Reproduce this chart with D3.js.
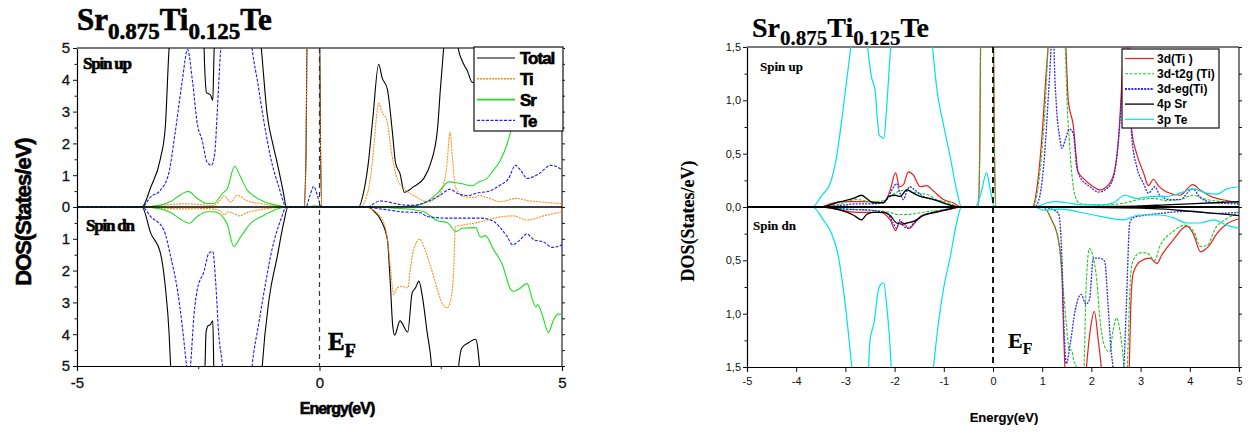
<!DOCTYPE html>
<html>
<head>
<meta charset="utf-8">
<script src="https://cdn.jsdelivr.net/npm/d3@7"></script>
<style>
  body { margin: 0; background: #fff; }
  svg { display: block; }
</style>
</head>
<body>
<svg id="chart" width="1250" height="433"></svg>
<script>
// ---- data, left panel: [energy eV, DOS]; spin dn stored as magnitude ----
const totalUp = [[-5,0],[-3.66,0],[-3.48,0.62],[-3.28,1.52],[-3.18,2.5],[-3.1,5],[-3.0,6],
  [-2.4,6],[-2.37,4.5],[-2.33,3.6],[-2.27,3.55],[-2.24,3.5],[-2.2,3.35],[-2.18,4.5],[-2.15,6],
  [-1.26,6],[-1.2,5],[-1.08,2.93],[-0.95,1.9],[-0.87,1.37],[-0.75,0.5],[-0.68,0],
  [-0.32,0],[-0.28,1.5],[-0.25,6],[0.0,6],[0.02,2],[0.05,0],
  [0.81,0],[0.9,0.4],[1.0,1.3],[1.1,2.8],[1.22,4.49],[1.29,4.07],[1.4,3.7],[1.5,2.4],[1.57,1.37],
  [1.66,1.05],[1.75,0.46],[1.94,0.64],[2.15,0.9],[2.29,1.37],[2.43,2.4],[2.49,3.66],[2.56,5],[2.62,6],
  [2.8,6],[2.86,5],[2.94,4.6],[3.05,4.28],[3.15,3.92],[3.22,3.95],[3.35,6],[5,6]];
const totalDn = [[-5,0],[-3.66,0],[-3.48,0.82],[-3.28,1.45],[-3.18,2.49],[-3.1,4],[-3.07,5],[-3.0,6],
  [-2.4,6],[-2.36,5],[-2.34,3.95],[-2.3,3.74],[-2.25,3.7],[-2.2,3.58],[-2.18,5],[-2.15,6],
  [-1.22,6],[-1.18,5],[-1.04,2.9],[-0.87,1.55],[-0.74,0.51],[-0.65,0],
  [1.0,0],[1.1,0.1],[1.26,0.4],[1.4,1.03],[1.46,2.4],[1.51,3.74],[1.55,4.03],[1.66,3.58],[1.82,3.93],
  [1.91,2.7],[1.98,2.54],[2.05,2.33],[2.12,2.8],[2.22,3.95],[2.31,5],[2.35,6],
  [2.83,6],[2.87,5],[2.94,4.42],[3.08,4.26],[3.22,4.16],[3.26,4.4],[3.3,5],[3.35,6],[5,6]];
const tiUp = [[-5,0],[-3.66,0],[-3.3,0.05],[-2.8,0.1],[-2.5,0.08],[-2.2,0.05],[-2.05,0.2],[-1.97,0.35],
  [-1.83,0.16],[-1.7,0.37],[-1.5,0.2],[-1.17,0.1],[-0.9,0.03],[-0.7,0],
  [-0.31,0],[-0.28,1.5],[-0.25,6],[-0.01,6],[0.02,2],[0.05,0],
  [0.84,0],[0.95,0.25],[1.05,0.9],[1.12,1.9],[1.18,2.9],[1.22,3.26],[1.29,2.98],[1.38,2.77],[1.5,1.57],
  [1.6,0.9],[1.74,0.58],[1.94,0.37],[2.24,0.16],[2.4,0.3],[2.49,0.43],[2.63,1.37],[2.69,2.35],[2.74,1.57],
  [2.8,0.64],[2.98,0.32],[3.2,0.3],[3.28,0.37],[3.45,0.3],[3.73,0.17],[4.07,0.27],[4.3,0.2],[4.71,0.14],[5,0.1]];
const tiDn = [[-5,0],[-3.66,0],[-3.3,0.03],[-2.8,0.06],[-2.3,0.05],[-2.05,0.12],[-1.97,0.25],[-1.88,0.15],
  [-1.75,0.22],[-1.65,0.28],[-1.5,0.18],[-1.2,0.08],[-0.9,0.02],[-0.7,0],
  [0.95,0],[1.05,0.05],[1.19,0.2],[1.33,0.51],[1.41,1.13],[1.46,1.87],[1.53,2.75],[1.6,2.54],[1.7,2.5],
  [1.82,2.54],[1.88,1.87],[1.94,1.34],[2.07,1.01],[2.15,1.24],[2.29,1.87],[2.43,2.59],[2.54,3.06],[2.63,3.17],
  [2.72,2.8],[2.77,1.87],[2.8,0.62],[2.9,0.58],[3.19,0.51],[3.46,0.41],[3.73,0.31],[4.0,0.28],[4.28,0.41],
  [4.62,0.28],[5,0.15]];
const srUp = [[-5,0],[-3.66,0],[-3.3,0.05],[-3.07,0.17],[-2.87,0.38],[-2.71,0.49],[-2.52,0.27],[-2.32,0.11],
  [-2.18,0.11],[-2.0,0.43],[-1.9,0.58],[-1.75,1.28],[-1.63,0.95],[-1.49,0.53],[-1.35,0.34],[-1.15,0.17],
  [-0.87,0.05],[-0.68,0],[-0.25,0],[-0.1,0.04],[0.03,0],
  [1.0,0],[1.5,0.01],[1.94,0.03],[2.22,0.17],[2.43,0.43],[2.67,0.79],[2.91,0.74],[3.15,0.67],[3.28,0.79],
  [3.42,0.86],[3.59,1.16],[3.73,1.47],[3.87,1.99],[3.94,2.35],[4.1,3.0],[4.4,3.8],[4.7,4.3],[5,4.6]];
const srDn = [[-5,0],[-3.66,0],[-3.3,0.05],[-3.07,0.17],[-2.87,0.38],[-2.69,0.51],[-2.52,0.3],[-2.32,0.15],
  [-2.18,0.15],[-2.0,0.3],[-1.9,0.55],[-1.77,1.24],[-1.63,0.95],[-1.43,0.53],[-1.17,0.28],[-0.84,0.05],[-0.68,0],
  [1.0,0],[1.5,0.03],[2.0,0.1],[2.15,0.15],[2.43,0.43],[2.63,0.49],[2.82,0.77],[2.94,0.67],[3.22,0.65],
  [3.32,0.95],[3.42,0.9],[3.59,1.34],[3.77,1.81],[3.94,2.59],[4.0,2.65],[4.1,2.59],[4.28,2.41],[4.39,2.91],
  [4.46,3.14],[4.5,3.07],[4.59,3.38],[4.72,3.95],[4.83,3.53],[4.93,3.37],[5,3.37]];
const teUp = [[-5,0],[-3.66,0],[-3.48,0.32],[-3.28,0.53],[-3.11,1.05],[-2.97,2.4],[-2.83,3.97],[-2.72,4.95],
  [-2.62,3.97],[-2.52,2.62],[-2.42,2.1],[-2.32,1.42],[-2.23,1.31],[-2.16,1.68],[-2.11,2.93],[-2.04,4.9],[-1.98,6],
  [-1.45,6],[-1.39,5],[-1.28,3.97],[-1.15,2.72],[-1.01,1.57],[-0.84,0.64],[-0.68,0],
  [-0.28,0],[-0.2,0.35],[-0.12,0.65],[-0.04,0.35],[0.04,0],
  [1.0,0],[1.16,0.15],[1.26,0.19],[1.66,0.08],[1.93,0.05],[2.22,0.17],[2.49,0.37],[2.69,0.56],[2.84,0.43],
  [3.05,0.36],[3.28,0.45],[3.45,0.48],[3.73,0.69],[3.9,0.9],[4.04,1.31],[4.15,1.15],[4.28,0.9],[4.53,1.05],
  [4.76,1.31],[4.9,1.26],[5,1.17]];
const teDn = [[-5,0],[-3.66,0],[-3.48,0.3],[-3.21,0.72],[-3.07,1.55],[-2.93,2.6],[-2.83,3.74],[-2.74,5],[-2.7,5.5],
  [-2.66,5],[-2.59,3.43],[-2.52,2.6],[-2.38,2.02],[-2.28,1.45],[-2.2,1.4],[-2.14,2.38],[-2.08,3.95],[-2.0,5],[-1.95,6],
  [-1.45,6],[-1.39,5],[-1.25,3.64],[-1.11,2.38],[-0.98,1.34],[-0.8,0.41],[-0.68,0],
  [1.0,0],[1.2,0.05],[1.46,0.1],[1.66,0.15],[2.08,0.18],[2.22,0.3],[2.63,0.35],[2.9,0.35],[3.32,0.35],
  [3.59,0.45],[3.73,0.66],[3.87,0.93],[3.98,1.19],[4.1,1.08],[4.28,0.85],[4.42,1.03],[4.62,1.1],[4.8,1.27],[5,1.19]];

// ---- data, right panel ----
const d3Up = [[-5,0],[-3.5,0],[-3.31,0.03],[-3.04,0.05],[-2.77,0.05],[-2.5,0.05],[-2.22,0.04],[-2.09,0.16],
  [-1.98,0.32],[-1.9,0.19],[-1.82,0.21],[-1.72,0.33],[-1.62,0.3],[-1.48,0.19],[-1.35,0.2],[-1.21,0.15],
  [-1.01,0.07],[-0.81,0.04],[-0.64,0],[-0.3,0],[-0.27,0.5],[-0.24,2],[0.0,2],[0.03,0.5],[0.06,0],
  [0.8,0],[0.9,0.2],[0.99,0.63],[1.08,1.25],[1.12,1.5],[1.2,2],[1.42,2],[1.48,1.5],[1.53,1.0],[1.63,0.77],
  [1.73,0.33],[1.83,0.27],[2.04,0.19],[2.17,0.16],[2.31,0.19],[2.45,0.3],[2.55,0.63],[2.61,1.1],[2.65,1.5],
  [2.7,2],[2.76,2],[2.8,1.0],[2.82,0.72],[2.92,0.5],[3.06,0.32],[3.16,0.2],[3.26,0.26],[3.36,0.2],[3.53,0.14],
  [3.8,0.11],[4.06,0.21],[4.21,0.16],[4.48,0.09],[4.75,0.06],[5,0.04]];
const d3Dn = [[-5,0],[-3.5,0],[-3.2,0.02],[-2.77,0.05],[-2.3,0.05],[-2.09,0.12],[-1.98,0.22],[-1.9,0.14],
  [-1.82,0.15],[-1.71,0.2],[-1.59,0.15],[-1.45,0.08],[-1.15,0.05],[-0.85,0.02],[-0.64,0],
  [1.02,0],[1.19,0.12],[1.33,0.31],[1.4,0.62],[1.43,1.09],[1.46,1.5],[1.5,1.8],
  [1.85,1.8],[1.9,1.5],[1.97,1.18],[2.06,0.98],[2.14,1.25],[2.2,1.5],[2.25,1.8],
  [2.72,1.8],[2.77,1.5],[2.8,0.93],[2.85,0.62],[2.99,0.51],[3.19,0.48],[3.33,0.53],[3.43,0.45],[3.66,0.31],
  [3.94,0.18],[4.07,0.25],[4.22,0.42],[4.38,0.37],[4.55,0.25],[4.75,0.16],[5,0.11]];
const t2gUp = [[-5,0],[-3.5,0],[-3.1,0.03],[-2.77,0.07],[-2.5,0.05],[-2.2,0.06],[-2.09,0.1],[-1.95,0.14],
  [-1.75,0.16],[-1.55,0.13],[-1.35,0.12],[-1.15,0.07],[-0.9,0.04],[-0.68,0],
  [-0.3,0],[-0.27,0.5],[-0.24,2],[0.0,2],[0.03,0.5],[0.06,0],
  [0.82,0],[0.92,0.2],[1.0,0.55],[1.06,0.94],[1.12,1.5],[1.2,2],[1.42,2],[1.47,1.5],[1.51,0.94],[1.55,0.63],
  [1.6,0.32],[1.67,0.1],[1.77,0.03],[2.17,0.02],[2.58,0.03],[2.99,0.07],[3.26,0.08],[3.53,0.06],[3.8,0.07],
  [4.07,0.11],[4.34,0.07],[4.68,0.05],[5,0.04]];
const t2gDn = [[-5,0],[-3.5,0],[-3.0,0.02],[-2.5,0.03],[-2.1,0.05],[-1.95,0.07],[-1.75,0.07],[-1.55,0.06],
  [-1.3,0.04],[-0.9,0.02],[-0.68,0],
  [1.02,0],[1.19,0.12],[1.33,0.31],[1.43,0.78],[1.49,1.09],[1.55,1.34],[1.6,1.34],[1.64,1.44],[1.69,1.5],
  [1.75,1.8],[1.8,1.7],[1.85,1.5],[1.89,0.78],[1.96,0.39],[2.02,0.44],[2.11,0.69],[2.17,1.03],[2.27,1.31],
  [2.37,1.36],[2.44,1.16],[2.51,1.04],[2.58,1.16],[2.66,1.5],[2.7,1.8],[2.73,1.5],[2.8,0.62],[2.85,0.5],
  [2.99,0.43],[3.12,0.43],[3.29,0.5],[3.39,0.37],[3.66,0.23],[3.9,0.17],[4.07,0.22],[4.22,0.37],[4.35,0.36],
  [4.52,0.2],[4.75,0.11],[5,0.06]];
const egUp = [[-5,0],[-3.5,0],[-3.0,0.02],[-2.77,0.03],[-2.4,0.03],[-2.16,0.07],[-2.03,0.18],[-1.96,0.22],
  [-1.89,0.13],[-1.82,0.07],[-1.75,0.15],[-1.69,0.19],[-1.59,0.16],[-1.42,0.1],[-1.15,0.06],[-0.9,0.02],[-0.68,0],
  [0.85,0],[0.95,0.1],[1.05,0.5],[1.12,1.0],[1.18,1.5],[1.22,2],[1.24,1.5],[1.29,0.94],[1.36,0.64],[1.4,0.55],
  [1.47,0.63],[1.55,0.73],[1.63,0.69],[1.7,0.38],[1.77,0.28],[1.97,0.19],[2.14,0.14],[2.31,0.17],[2.45,0.28],
  [2.55,0.63],[2.65,1.25],[2.72,1.6],[2.78,1.0],[2.82,0.66],[2.92,0.38],[3.06,0.22],[3.16,0.13],[3.29,0.19],
  [3.39,0.11],[3.6,0.07],[3.8,0.07],[4.06,0.17],[4.21,0.09],[4.48,0.04],[5,0.03]];
const egDn = [[-5,0],[-3.5,0],[-3.0,0.02],[-2.5,0.03],[-2.15,0.06],[-2.03,0.15],[-1.96,0.2],[-1.89,0.12],
  [-1.82,0.18],[-1.72,0.2],[-1.59,0.14],[-1.42,0.08],[-1.1,0.04],[-0.68,0],
  [1.0,0],[1.2,0.02],[1.33,0.06],[1.4,0.47],[1.44,1.09],[1.49,1.47],[1.57,1.28],[1.67,0.97],[1.79,0.82],
  [1.89,0.91],[1.96,0.87],[2.04,0.48],[2.17,0.48],[2.27,0.51],[2.34,0.93],[2.4,1.34],[2.44,1.5],[2.5,1.8],
  [2.6,1.8],[2.66,1.5],[2.71,0.93],[2.78,0.15],[2.85,0.1],[3.4,0.06],[4.07,0.04],[4.5,0.06],[5,0.05]];
const sr4pUp = [[-5,0],[-3.5,0],[-3.1,0.05],[-2.84,0.08],[-2.67,0.11],[-2.57,0.08],[-2.43,0.04],[-2.22,0.04],
  [-2.12,0.1],[-1.99,0.11],[-1.89,0.1],[-1.75,0.16],[-1.66,0.14],[-1.48,0.1],[-1.28,0.08],[-1.08,0.05],
  [-0.8,0.01],[-0.68,0],[1.0,0],[2.5,0.005],[3.0,0.01],[3.5,0.02],[4.0,0.03],[4.5,0.04],[5,0.05]];
const sr4pDn = [[-5,0],[-3.5,0],[-3.1,0.03],[-2.84,0.075],[-2.67,0.12],[-2.57,0.07],[-2.43,0.05],[-2.22,0.05],
  [-2.09,0.08],[-1.96,0.15],[-1.85,0.16],[-1.75,0.15],[-1.59,0.13],[-1.42,0.08],[-1.2,0.05],[-0.9,0.02],
  [-0.68,0],[1.0,0],[3.0,0.01],[3.5,0.02],[4.0,0.04],[4.5,0.06],[5,0.08]];
const te3pUp = [[-5,0],[-3.67,0],[-3.48,0.11],[-3.31,0.22],[-3.18,0.47],[-3.04,0.94],[-2.94,1.31],[-2.89,1.5],[-2.8,1.8],
  [-2.62,1.8],[-2.55,1.5],[-2.47,1.22],[-2.4,1.1],[-2.31,0.67],[-2.27,0.66],[-2.22,0.64],[-2.16,0.94],[-2.11,1.3],
  [-2.08,1.5],[-2.0,1.8],[-1.3,1.8],[-1.23,1.5],[-1.14,1.1],[-1.01,0.78],[-0.87,0.47],[-0.74,0.16],[-0.64,0],
  [-0.36,0],[-0.25,0.12],[-0.13,0.32],[-0.05,0.15],[0.03,0],
  [0.85,0],[1.1,0.04],[1.3,0.05],[1.5,0.04],[1.8,0.02],[2.2,0.02],[2.45,0.04],[2.68,0.11],[2.92,0.08],
  [3.26,0.1],[3.53,0.1],[3.8,0.13],[4.07,0.17],[4.34,0.13],[4.55,0.12],[4.75,0.17],[5,0.19]];
const te3pDn = [[-5,0],[-3.67,0],[-3.45,0.12],[-3.28,0.25],[-3.14,0.47],[-3.04,0.78],[-2.96,1.09],[-2.87,1.5],[-2.8,1.8],
  [-2.6,1.8],[-2.53,1.5],[-2.5,1.25],[-2.42,1.09],[-2.33,0.78],[-2.29,0.73],[-2.22,0.71],[-2.16,0.93],[-2.1,1.25],
  [-2.07,1.5],[-2.0,1.8],[-1.28,1.8],[-1.21,1.5],[-1.11,1.09],[-1.01,0.78],[-0.87,0.47],[-0.74,0.15],[-0.64,0],
  [0.85,0],[1.02,0.03],[1.36,0.02],[2.04,0.075],[2.65,0.12],[2.98,0.075],[3.39,0.075],[3.66,0.1],[3.94,0.15],
  [4.21,0.15],[4.48,0.12],[4.75,0.17],[5,0.2]];

const leftNames = ["Total", "Ti", "Sr", "Te"];
const rightNames = ["3d(Ti )", "3d-t2g (Ti)", "3d-eg(Ti)", "4p Sr", "3p Te"];
const leftYTicks = [-5,-4,-3,-2,-1,0,1,2,3,4,5];
const rightYTicks = [-1.5,-1,-0.5,0,0.5,1,1.5];

const svg = d3.select('#chart');
const SANS = "'Liberation Sans', Arial, sans-serif";
const SERIF = "'Liberation Serif', 'Times New Roman', serif";

function title(x, y, size, sub, heavy) {
  const t = svg.append('text').attr('x', x).attr('y', y)
    .attr('font-family', SERIF).attr('font-weight', 'bold').attr('font-size', size)
    .attr('stroke', '#000').attr('stroke-width', heavy);
  const parts = [['Sr',0],['0.875',1],['Ti',0],['0.125',1],['Te',0]];
  let prev = 0;
  parts.forEach(([s, lo]) => {
    t.append('tspan').text(s)
      .attr('font-size', lo ? sub : size)
      .attr('dy', (lo - prev) * size * 0.28);
    prev = lo;
  });
}

function panel(o) {
  const x = d3.scaleLinear().domain([-5, 5]).range([o.x0, o.x1]);
  const y = d3.scaleLinear().domain([-o.ymax, o.ymax]).range([o.y1, o.y0]);
  const g = svg.append('g');
  const clipId = 'clip' + o.id;
  svg.append('clipPath').attr('id', clipId).append('rect')
    .attr('x', o.x0).attr('y', o.y0).attr('width', o.x1 - o.x0).attr('height', o.y1 - o.y0);

  // axes
  const ax = g.append('g').attr('transform', `translate(0,${o.y1})`)
    .call(d3.axisBottom(x).tickValues(o.xTicks).tickSize(5).tickFormat(d => String(d)));
  g.append('g').attr('transform', `translate(0,${o.y1})`)
    .call(d3.axisBottom(x).tickValues(o.xMinor).tickSize(3).tickFormat(''))
    .select('.domain').remove();
  const ay = g.append('g').attr('transform', `translate(${o.x0},0)`)
    .call(d3.axisLeft(y).tickValues(o.yTicks).tickSize(4).tickFormat(o.yFmt));
  g.append('g').attr('transform', `translate(${o.x0},0)`)
    .call(d3.axisLeft(y).tickValues(o.yMinor).tickSize(2.5).tickFormat(''))
    .select('.domain').remove();
  g.append('g').attr('transform', `translate(${o.x1},0)`)
    .call(d3.axisLeft(y).tickValues(o.yMinor.concat(o.yTicks)).tickSize(-3).tickFormat(''))
    .select('.domain').remove();
  [ax, ay].forEach(a => {
    a.selectAll('text').attr('font-family', SANS).attr('font-size', o.tickFont).attr('fill', '#111')
      .attr('stroke', '#111').attr('stroke-width', o.tickHeavy);
    a.select('.domain').attr('stroke-width', 1.2);
  });
  ax.selectAll('text').attr('dy', o.xLabDy);
  ay.selectAll('.tick text').attr('x', -o.yLabGap);
  g.selectAll('.tick line').attr('stroke', '#111');

  // frame: top border grey, right border black
  g.append('line').attr('x1', o.x0).attr('x2', o.x1).attr('y1', o.y0).attr('y2', o.y0)
    .attr('stroke', '#7a7a7a').attr('stroke-width', 2.2);
  g.append('line').attr('x1', o.x1).attr('x2', o.x1).attr('y1', o.y0).attr('y2', o.y1)
    .attr('stroke', '#111').attr('stroke-width', 1.1);

  // curves
  const cg = g.append('g').attr('clip-path', `url(#${clipId})`);
  const line = d3.line().x(d => x(d[0])).y(d => y(d[1])).curve(d3.curveMonotoneX);
  o.series.forEach(s => {
    [[s.up, 1], [s.dn, -1]].forEach(([arr, sign]) => {
      cg.append('path').datum(arr.map(d => [d[0], sign * d[1]]))
        .attr('d', line).attr('fill', 'none')
        .attr('stroke', s.color).attr('stroke-width', s.width)
        .attr('stroke-dasharray', s.dash || null);
    });
  });
  // zero line
  g.append('line').attr('x1', o.x0).attr('x2', o.x1).attr('y1', y(0)).attr('y2', y(0))
    .attr('stroke', '#000').attr('stroke-width', o.zeroW);
  // Fermi level
  g.append('line').attr('x1', x(0)).attr('x2', x(0)).attr('y1', o.y0).attr('y2', o.y1)
    .attr('stroke', o.efColor).attr('stroke-width', o.efW).attr('stroke-dasharray', o.efDash);

  // legend
  const L = o.legend;
  g.append('rect').attr('x', L.x).attr('y', L.y).attr('width', L.w).attr('height', L.h)
    .attr('fill', '#fff').attr('stroke', '#111').attr('stroke-width', 1.2);
  o.series.forEach((s, i) => {
    const cy = L.y + L.first + i * L.step;
    g.append('line').attr('x1', L.x + 3).attr('x2', L.x + 3 + L.lineLen).attr('y1', cy).attr('y2', cy)
      .attr('stroke', s.color).attr('stroke-width', s.legW || s.width)
      .attr('stroke-dasharray', s.dash || null);
    g.append('text').attr('x', L.x + L.textX).attr('y', cy + L.font * 0.36)
      .attr('font-family', SANS).attr('font-weight', 'bold').attr('font-size', L.font)
      .attr('stroke', '#000').attr('stroke-width', L.heavy)
      .attr('letter-spacing', L.ls).text(o.names[i]);
  });

  // annotations
  const lab = (tx, ty, txt, size, fam, ls, heavy, anchor, rot) => {
    const t = g.append('text').attr('x', tx).attr('y', ty).text(txt)
      .attr('font-family', fam).attr('font-weight', 'bold').attr('font-size', size)
      .attr('stroke', '#000').attr('stroke-width', heavy)
      .attr('letter-spacing', ls).attr('text-anchor', anchor || 'start');
    if (rot) t.attr('transform', `rotate(-90,${tx},${ty})`);
    return t;
  };
  lab(o.spinUp[0], o.spinUp[1], 'Spin up', o.spinFont, SERIF, o.spinLs, o.heavy);
  lab(o.spinDn[0], o.spinDn[1], 'Spin dn', o.spinFont, SERIF, o.spinLs, o.heavy);
  const ef = lab(o.ef[0], o.ef[1], 'E', o.efFont, SERIF, 0, o.heavy);
  ef.append('tspan').text('F').attr('font-size', o.efFont * 0.72).attr('dy', o.efFont * 0.28);
  lab(o.xTitle[0], o.xTitle[1], 'Energy(eV)', o.xTitleFont, SANS, o.xTitleLs, o.heavy, 'middle');
  lab(o.yTitle[0], o.yTitle[1], 'DOS(States/eV)', o.yTitleFont, o.yTitleFam, o.yTitleLs, o.heavy, 'middle', true);
}

title(77, 30, 31, 23, 0.6);
title(752, 37, 28, 21, 0.2);

panel({
  id: 'L', x0: 77, x1: 562, y0: 48, y1: 366, ymax: 5,
  xTicks: [-5, 0, 5], xMinor: [-2.5, 2.5],
  yTicks: leftYTicks, yMinor: d3.range(-4.5, 5, 1), yFmt: d => Math.abs(d),
  tickFont: 15, tickHeavy: 0.3, xLabDy: '0.95em', yLabGap: 7, zeroW: 1.3,
  efColor: '#333', efW: 1.2, efDash: '5,4',
  names: leftNames, heavy: 0.6,
  series: [
    { up: totalUp, dn: totalDn, color: '#000', width: 1.1 },
    { up: tiUp, dn: tiDn, color: '#ff8c1a', width: 1.1, dash: '2,1', legW: 1.6 },
    { up: srUp, dn: srDn, color: '#22dd22', width: 1.1, legW: 1.8 },
    { up: teUp, dn: teDn, color: '#1a1aff', width: 1.1, dash: '3,1.5' }
  ],
  legend: { x: 474, y: 47, w: 89, h: 84, first: 11, step: 20.8, lineLen: 38, textX: 46, font: 17, ls: -1, heavy: 0.6 },
  spinUp: [83, 69], spinDn: [86, 231], spinFont: 17, spinLs: -1.2,
  ef: [328, 350], efFont: 25,
  xTitle: [337, 414], xTitleFont: 16, xTitleLs: -1,
  yTitle: [31, 212], yTitleFont: 22, yTitleFam: SANS, yTitleLs: -1
});

panel({
  id: 'R', x0: 747, x1: 1239, y0: 47, y1: 367, ymax: 1.5,
  xTicks: d3.range(-5, 6, 1), xMinor: [],
  yTicks: rightYTicks, yMinor: [-1.25, -0.75, -0.25, 0.25, 0.75, 1.25],
  yFmt: d => d3.format('.1f')(Math.abs(d)).replace('.', ','),
  tickFont: 11, tickHeavy: 0, xLabDy: '0.9em', yLabGap: 6, zeroW: 1.8,
  efColor: '#000', efW: 1.8, efDash: '6,4',
  names: rightNames, heavy: 0.15,
  series: [
    { up: d3Up, dn: d3Dn, color: '#ee1c1c', width: 1.2 },
    { up: t2gUp, dn: t2gDn, color: '#1ecc1e', width: 1.1, dash: '3,1.5' },
    { up: egUp, dn: egDn, color: '#2b2bf0', width: 1.3, dash: '2,1.2', legW: 2 },
    { up: sr4pUp, dn: sr4pDn, color: '#000', width: 1.3 },
    { up: te3pUp, dn: te3pDn, color: '#00e0e8', width: 1.2 }
  ],
  legend: { x: 1122, y: 49, w: 97, h: 79, first: 9.5, step: 15.2, lineLen: 29, textX: 35, font: 12, ls: 0, heavy: 0 },
  spinUp: [760, 71], spinDn: [753, 230], spinFont: 13, spinLs: 0,
  ef: [1008, 348], efFont: 22,
  xTitle: [1004, 422], xTitleFont: 13, xTitleLs: 0,
  yTitle: [694, 221], yTitleFont: 18, yTitleFam: SERIF, yTitleLs: 0
});
</script>
</body>
</html>
